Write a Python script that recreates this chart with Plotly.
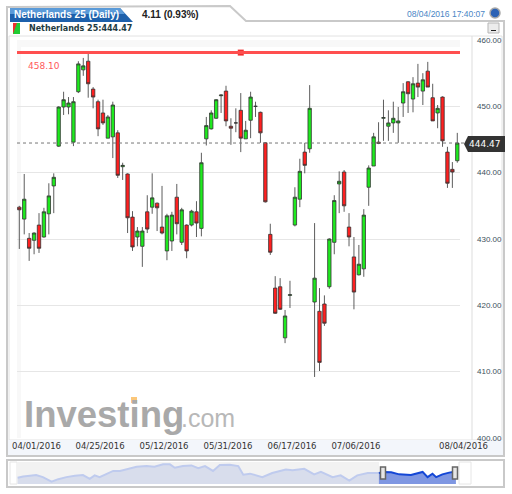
import pandas as pd
import plotly.graph_objects as go

W = 512
H = 494

# daily candles, 04/01/2016 to 08/04/2016
opens = [434.8, 433.0, 430.1, 429.8, 432.1, 430.3, 433.8, 438.0, 444.0, 449.9,
         449.9, 444.6, 452.2, 455.5, 456.8, 452.6, 450.7, 449.0, 445.2, 445.4,
         446.0, 440.9, 439.8, 433.3, 430.3, 428.9, 434.1, 434.8, 435.4, 431.8,
         428.2, 429.7, 436.3, 429.5, 432.1, 432.1, 434.1, 431.6, 445.1, 446.6,
         448.2, 451.6, 452.3, 447.0, 447.5, 449.4, 445.1, 447.9, 450.0, 449.1,
         444.5, 430.7, 422.6, 422.8, 415.1, 421.5, 432.1, 436.0, 443.1, 443.6,
         420.5, 419.1, 420.2, 422.8, 429.5, 438.3, 440.1, 431.8, 427.3, 424.6,
         425.5, 437.8, 441.0, 444.6, 448.2, 447.0, 447.5, 447.5, 450.5, 453.7,
         451.1, 453.5, 452.3, 455.3, 451.3, 449.0, 451.4, 443.1, 440.5, 441.8]
highs = [435.0, 439.8, 430.9, 431.0, 433.9, 434.7, 438.4, 439.9, 450.0, 452.2,
         451.4, 451.4, 456.8, 457.3, 458.0, 452.9, 451.0, 451.0, 448.7, 450.7,
         446.4, 441.5, 439.9, 434.2, 431.8, 431.8, 436.6, 439.9, 435.5, 438.0,
         433.8, 434.1, 438.3, 434.7, 432.2, 434.4, 435.7, 443.0, 448.4, 449.4,
         451.1, 451.8, 453.1, 448.2, 449.7, 452.0, 447.8, 452.2, 450.7, 449.2,
         444.6, 432.3, 424.4, 424.1, 419.3, 423.7, 437.8, 442.1, 444.5, 453.2,
         432.4, 422.6, 421.5, 430.1, 436.6, 440.2, 440.4, 433.9, 430.3, 429.1,
         434.5, 441.1, 446.0, 447.6, 451.0, 449.4, 450.7, 449.9, 453.5, 453.8,
         454.4, 456.4, 455.0, 456.7, 453.4, 450.2, 451.5, 443.9, 441.6, 446.0]
lows = [428.5, 430.7, 426.7, 427.7, 427.9, 430.2, 430.7, 433.9, 443.9, 448.7,
        448.8, 444.0, 452.0, 454.6, 451.3, 449.7, 445.5, 447.2, 445.2, 442.2,
        439.2, 438.9, 430.9, 428.2, 428.9, 425.8, 430.9, 433.8, 431.2, 430.7,
        426.8, 428.2, 430.7, 429.1, 427.1, 431.9, 430.3, 430.4, 444.1, 446.5,
        448.1, 449.0, 447.0, 444.2, 446.1, 443.1, 445.1, 445.2, 448.4, 444.5,
        435.5, 427.6, 418.7, 419.3, 414.3, 419.6, 431.9, 434.8, 439.9, 443.0,
        409.2, 410.1, 416.9, 422.5, 427.7, 433.9, 434.1, 428.9, 419.4, 424.5,
        424.3, 435.0, 441.0, 444.3, 444.8, 444.8, 446.0, 444.5, 448.4, 449.0,
        449.1, 451.4, 450.2, 452.9, 447.8, 446.7, 443.9, 437.7, 437.7, 441.5]
closes = [434.4, 436.0, 428.6, 430.9, 428.6, 434.1, 436.5, 439.3, 449.9, 451.0,
          450.5, 450.7, 456.4, 456.1, 453.4, 451.4, 446.6, 447.5, 448.4, 450.2,
          439.6, 441.1, 433.2, 428.8, 431.2, 431.2, 431.5, 436.2, 434.7, 430.9,
          433.5, 433.6, 432.3, 434.4, 428.2, 434.2, 432.4, 441.5, 447.1, 449.0,
          451.0, 451.7, 447.8, 446.7, 447.5, 445.2, 446.4, 451.4, 450.0, 446.0,
          435.6, 428.0, 418.8, 419.4, 418.4, 421.6, 436.3, 440.2, 441.1, 449.7,
          424.1, 411.4, 417.3, 430.0, 435.8, 438.7, 435.0, 430.3, 422.0, 426.2,
          433.6, 440.7, 445.4, 444.4, 448.3, 447.5, 448.2, 447.8, 452.2, 451.9,
          453.4, 452.9, 454.0, 452.9, 447.8, 449.7, 444.8, 438.4, 440.1, 444.47]

tick_labels = ['04/25/2016', '05/12/2016', '05/31/2016', '06/17/2016', '07/06/2016']
first_label = '04/01/2016'
last_label = '08/04/2016'
price_ticks = [400, 410, 420, 430, 440, 450, 460]

resistance = 458.10
last_price = 444.47

# navigator series, days before the last date and a rough index level
nav_days_back = [711, 702, 691, 681, 670, 656, 645, 632, 618, 605, 594, 586, 578, 567, 556, 545,
                 532, 518, 502, 489, 475, 464, 456, 443, 429, 418, 407, 394, 383, 367, 353, 345,
                 334, 325, 314, 298, 276, 265, 246, 230, 219, 200, 187, 173, 160, 143, 125,
                 116, 105, 92, 73, 54, 46, 38, 32, 22, 11, 0]
nav_values = [415.6, 422.7, 426.2, 429.8, 419.1, 396.0, 408.5, 419.1, 426.2, 429.8, 410.2, 428.0,
              419.1, 433.3, 451.1, 451.1, 461.8, 472.4, 476.0, 472.4, 484.9, 484.9, 467.1, 476.0,
              479.5, 465.3, 476.0, 451.1, 481.3, 483.1, 476.0, 431.6, 436.9, 428.0, 419.1, 440.4,
              458.2, 454.7, 461.8, 433.3, 445.8, 419.1, 428.0, 401.4, 428.0, 440.4, 440.4,
              445.8, 444.0, 433.3, 429.8, 445.8, 419.1, 436.9, 419.1, 433.3, 442.2, 447.6]


def px(x):
    return x / W


def py(y):
    return 1 - y / H


def rect(x0, y0, x1, y1, fill, line=None, width=1, layer='below'):
    return dict(type='rect', xref='paper', yref='paper', x0=px(x0), x1=px(x1), y0=py(y0), y1=py(y1),
                fillcolor=fill, line=dict(color=line or fill, width=width if line else 0), layer=layer)


def poly(points, fill, line=None, width=1, layer='below'):
    path = 'M ' + ' L '.join(f'{px(a):.5f} {py(b):.5f}' for a, b in points) + ' Z'
    return dict(type='path', xref='paper', yref='paper', path=path, fillcolor=fill,
                line=dict(color=line or fill, width=width if line else 0), layer=layer)


def text(x, y, s, size, color, family='Liberation Sans', anchor='left'):
    return dict(xref='paper', yref='paper', x=px(x), y=py(y), text=s, showarrow=False, xanchor=anchor,
                yanchor='middle', font=dict(size=size, color=color, family=family), borderpad=0)


dates = pd.bdate_range('2016-04-01', '2016-08-04').strftime('%m/%d/%Y').tolist()
end_date = pd.Timestamp('2016-08-04')
nav_dates = [end_date - pd.Timedelta(days=d) for d in nav_days_back]
split = nav_days_back.index(125)

fig = go.Figure()

fig.add_trace(go.Candlestick(
    x=dates, open=opens, high=highs, low=lows, close=closes,
    increasing=dict(fillcolor='#1eea1e', line=dict(color='#333333', width=0.8)),
    decreasing=dict(fillcolor='#ff2020', line=dict(color='#333333', width=0.8)),
    whiskerwidth=0, xaxis='x', yaxis='y',
))

# little square handle on the horizontal level
fig.add_trace(go.Scatter(x=[dates[45]], y=[resistance], mode='markers',
                         marker=dict(symbol='square', size=6, color='#f03030'), xaxis='x', yaxis='y'))

fig.add_trace(go.Scatter(x=nav_dates[:split + 1], y=nav_values[:split + 1], mode='lines', fill='tozeroy',
                         fillcolor='#d8ddec', line=dict(color='#bfcbee', width=2), xaxis='x2', yaxis='y2'))
fig.add_trace(go.Scatter(x=nav_dates[split:], y=nav_values[split:], mode='lines', fill='tozeroy',
                         fillcolor='#7f97e2', line=dict(color='#1447d6', width=2), xaxis='x2', yaxis='y2'))

shapes = [
    # card with the tab on top
    poly([(7, 7), (230, 6), (246, 21), (504, 21), (504, 456), (7, 456)], '#ffffff', '#c9c9c9', 2),
    poly([(10, 8), (120, 8), (133, 22), (10, 22)], '#1d60ab'),
    poly([(10, 8), (120, 8), (125, 14), (10, 14)], '#5a9ad8'),
    # inner frame
    rect(9, 36, 502, 440, '#ffffff', '#e2e2e2', 1),
    rect(17, 40, 460, 47, '#f8f8f8'),
    rect(17, 40, 21, 438, '#f8f8f8'),
    rect(8, 440, 503, 455, '#f3f6fb'),
    dict(type='line', xref='paper', yref='paper', x0=px(472), x1=px(472), y0=py(36), y1=py(440),
         line=dict(color='#dddddd', width=1), layer='below'),
    # icons
    rect(13, 23, 20, 34, '#22cc33'),
    poly([(13, 23), (17, 23), (13, 34)], '#ee3030'),
    rect(488, 23, 499, 33, '#ececec', '#b5b5b5', 1),
    rect(491, 30, 496, 31, '#222222'),
    dict(type='circle', xref='paper', yref='paper', x0=px(490), x1=px(500), y0=py(18), y1=py(8),
         fillcolor='#2c62b5', line=dict(color='#a8a8a8', width=1.5)),
    # levels
    dict(type='line', xref='paper', yref='y', x0=px(17), x1=px(460), y0=resistance, y1=resistance,
         line=dict(color='#ff4f4f', width=3)),
    dict(type='line', xref='paper', yref='y', x0=px(17), x1=px(464), y0=last_price, y1=last_price,
         line=dict(color='#777777', width=1, dash='dot')),
    # last price tag
    poly([(464, 144), (468, 136), (505, 136), (505, 152), (468, 152)], '#333333', layer='above'),
    # logo accent
    rect(131, 397, 137, 403, '#fbc77a', layer='above'),
    # navigator
    rect(7, 460, 504, 487, '#ffffff', '#c9c9c9', 2),
    rect(10, 462, 17, 484, '#ffffff', '#e6e6e6', 1),
    rect(17, 462, 379, 484, '#f2f2f2'),
    rect(379, 462, 459, 484, '#ffffff'),
    rect(459, 462, 471, 484, '#ffffff', '#e6e6e6', 1),
    rect(380.5, 467, 385.5, 479, '#e6e6e6', '#666666', 1.5, 'above'),
    rect(452.5, 467, 457.5, 479, '#e6e6e6', '#666666', 1.5, 'above'),
]

annotations = [
    text(13, 14.5, '<b>Netherlands 25 (Daily)</b>', 10, '#ffffff'),
    text(141, 14.5, '<b>4.11 (0.93%)</b>', 10, '#222222'),
    text(406, 14, '08/04/2016 17:40:07', 8.5, '#4a86c5'),
    text(28, 29, '<b>Netherlands 25:444.47</b>', 8, '#1e3b3f', 'DejaVu Sans'),
    text(27, 66, '458.10', 9, '#ff5a5a', 'DejaVu Sans'),
    text(485, 144, '444.47', 9, '#ffffff', 'DejaVu Sans', 'center'),
    text(22.5, 414, '<b>Investing</b>', 36.5, '#a9a9a9'),
    text(180, 418, '.com', 25, '#b8b8b8'),
    dict(xref='x', yref='paper', x=dates[0], y=py(446), text=first_label, showarrow=False, xanchor='left',
         yanchor='middle', xshift=-9, font=dict(size=8.5, color='#333333', family='DejaVu Sans')),
    dict(xref='x', yref='paper', x=dates[-1], y=py(446), text=last_label, showarrow=False, xanchor='center',
         yanchor='middle', xshift=6, font=dict(size=8.5, color='#333333', family='DejaVu Sans')),
]

fig.update_layout(
    width=W, height=H, autosize=False, margin=dict(l=0, r=0, t=0, b=0, pad=0),
    paper_bgcolor='#ffffff', plot_bgcolor='rgba(0,0,0,0)', showlegend=False, boxgap=0.02,
    shapes=shapes, annotations=annotations,
    xaxis=dict(domain=[px(17), px(460)], type='category', range=[-0.47, 89.55], anchor='y', automargin=False,
               rangeslider=dict(visible=False), showgrid=False, zeroline=False, showline=False, ticks='',
               tickmode='array', tickvals=[dates[16], dates[29], dates[42], dates[55], dates[68]],
               ticktext=tick_labels, ticklabelshift=2, ticklabelstandoff=1,
               tickfont=dict(size=8.5, color='#333333', family='DejaVu Sans')),
    yaxis=dict(domain=[py(438), py(40)], range=[400, 460], side='right', anchor='x', automargin=False,
               tickmode='array', tickvals=price_ticks, tickformat='.2f', ticks='',
               ticklabelstandoff=16, showgrid=True, gridcolor='#e6e6e6', gridwidth=1, zeroline=False,
               showline=False, tickfont=dict(size=8, color='#3d4f5c', family='Liberation Sans')),
    xaxis2=dict(domain=[px(17), px(459)], type='date', anchor='y2', showgrid=False, zeroline=False, automargin=False,
                showticklabels=False, ticks='',
                range=[end_date - pd.Timedelta(days=712), end_date + pd.Timedelta(days=5)]),
    yaxis2=dict(domain=[py(484), py(462)], range=[383.6, 497], anchor='x2', showgrid=False, zeroline=False,
                automargin=False, showticklabels=False, ticks=''),
)

fig.write_html("out.html", config={"displayModeBar": False},
               post_script="document.body.style.margin='0';document.documentElement.style.overflow='hidden';")
